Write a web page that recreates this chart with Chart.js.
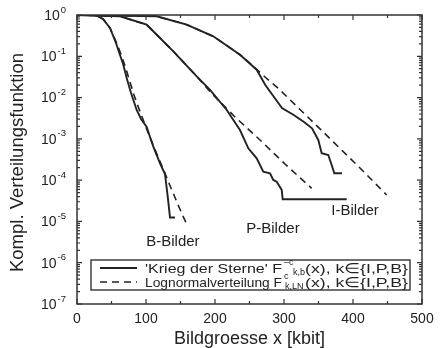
<!DOCTYPE html>
<html>
<head>
<meta charset="utf-8">
<script src="https://cdn.jsdelivr.net/npm/chart.js@4.4.1/dist/chart.umd.min.js"></script>
<style>
  html, body { margin: 0; padding: 0; background: #fff; }
</style>
</head>
<body>
<canvas id="chart" width="444" height="348"></canvas>
<script>
// Achsen
const xTicks = [0, 100, 200, 300, 400, 500];
const yExponents = [0, -1, -2, -3, -4, -5, -6, -7];

// B-Bilder (gemessen / Lognormal)
const bMessX = [0, 26.1, 37.7, 47.8, 56.5, 62.3, 67.1, 72.0, 78.3, 86.5, 92.8, 101, 105.8, 110.6, 115.5, 120.3, 127.5, 131.2, 134.8, 142];
const bMessY = [1, 1, 0.80, 0.484, 0.21, 0.107, 0.0625, 0.0298, 0.0129, 0.0050, 0.00303, 0.00194, 0.00111, 6.46e-4, 4.06e-4, 2.56e-4, 1.41e-4, 4.37e-5, 1.25e-5, 1.25e-5];
const bLogX = [0, 26.1, 37.7, 47.8, 58.0, 65.2, 71.0, 76.8, 82.6, 89.9, 97.1, 104.3, 111.6, 118.8, 126.1, 136.2, 147.8, 159.4];
const bLogY = [1, 1, 0.80, 0.484, 0.199, 0.0961, 0.0492, 0.0238, 0.0115, 0.00529, 0.00256, 0.00124, 6.35e-4, 3.25e-4, 1.67e-4, 6.46e-5, 2.24e-5, 8.2e-6];

// P-Bilder
const pMessX = [0, 62.3, 101, 139.6, 173.5, 192.8, 217, 236.2, 248.3, 260.4, 270, 279.7, 284.5, 289.4, 296.7, 298.1, 390.9];
const pMessY = [1, 0.931, 0.582, 0.132, 0.0327, 0.0153, 0.0050, 0.00164, 5.9e-4, 3.38e-4, 1.60e-4, 1.47e-4, 1.01e-4, 9.2e-5, 5.8e-5, 3.44e-5, 3.44e-5];
const pLogX = [0, 62.3, 101, 139.6, 173.5, 192.8, 227.5, 265.2, 301.4, 340.1];
const pLogY = [1, 0.931, 0.582, 0.132, 0.0327, 0.0139, 0.00358, 9.4e-4, 2.46e-4, 6.35e-5];

// I-Bilder
const iMessX = [0, 115.5, 159.0, 197.5, 236.2, 260.4, 272.9, 285.5, 297.1, 314.1, 329, 340.6, 349.7, 354.6, 364.2, 369.1, 372.9, 384.1];
const iMessY = [1, 0.931, 0.582, 0.305, 0.109, 0.0473, 0.0202, 0.0103, 0.0056, 0.00379, 0.00256, 0.0018, 9.4e-4, 4.48e-4, 4.07e-4, 2.33e-4, 1.47e-4, 1.47e-4];
const iLogX = [0, 115.5, 159.0, 197.5, 236.2, 248.8, 272.5, 294.2, 323.2, 352.2, 381.2, 410.1, 448.8];
const iLogY = [1, 0.931, 0.582, 0.305, 0.109, 0.0727, 0.0315, 0.0153, 0.00514, 0.00175, 5.85e-4, 1.97e-4, 4.37e-5];

const kurvenLabels = [
    { text: 'B-Bilder', x: 139, y: 3.2e-6 },
    { text: 'P-Bilder', x: 284, y: 6.6e-6 },
    { text: 'I-Bilder', x: 403, y: 1.8e-5 }
];

const FONT = '"Liberation Sans", Arial, Helvetica, sans-serif';
const INK = '#222';

function punkte(xs, ys) {
    return xs.map((v, i) => ({ x: v, y: ys[i] }));
}

function serie(xs, ys, gestrichelt) {
    return {
        data: punkte(xs, ys),
        borderColor: INK,
        borderWidth: gestrichelt ? 1.6 : 1.9,
        borderDash: gestrichelt ? [7, 5] : [],
        pointRadius: 0,
        showLine: true,
        fill: false,
        tension: 0
    };
}

// Text auf feste Breite bringen
function passText(ctx, text, x, y, breite) {
    const w = ctx.measureText(text).width;
    ctx.save();
    ctx.translate(x, y);
    ctx.scale(breite / w, 1);
    ctx.fillText(text, 0, 0);
    ctx.restore();
}

const rahmenPlugin = {
    id: 'rahmen',
    afterDraw(chart) {
        const { ctx, chartArea: a, scales: { x, y } } = chart;
        ctx.save();
        ctx.strokeStyle = '#333';
        ctx.fillStyle = INK;
        ctx.lineWidth = 1.5;
        ctx.strokeRect(a.left, a.top, a.right - a.left, a.bottom - a.top);

        // Ticks x
        ctx.lineWidth = 1.2;
        for (let v = 0; v <= 500; v += 50) {
            const px = x.getPixelForValue(v);
            const len = v % 100 === 0 ? 5 : 3;
            ctx.beginPath();
            ctx.moveTo(px, a.bottom); ctx.lineTo(px, a.bottom - len);
            ctx.moveTo(px, a.top); ctx.lineTo(px, a.top + len);
            ctx.stroke();
        }
        // Ticks y (log)
        yExponents.forEach(e => {
            const py = y.getPixelForValue(Math.pow(10, e));
            ctx.beginPath();
            ctx.moveTo(a.left, py); ctx.lineTo(a.left + 5, py);
            ctx.moveTo(a.right, py); ctx.lineTo(a.right - 5, py);
            ctx.stroke();
            if (e > -7) {
                for (let m = 2; m <= 9; m++) {
                    const pm = y.getPixelForValue(m * Math.pow(10, e - 1));
                    ctx.beginPath();
                    ctx.moveTo(a.left, pm); ctx.lineTo(a.left + 3, pm);
                    ctx.moveTo(a.right, pm); ctx.lineTo(a.right - 3, pm);
                    ctx.stroke();
                }
            }
        });

        // Tick-Beschriftung x
        ctx.font = `14px ${FONT}`;
        ctx.textAlign = 'center';
        ctx.textBaseline = 'middle';
        xTicks.forEach(v => ctx.fillText(String(v), x.getPixelForValue(v), a.bottom + 15));

        // Tick-Beschriftung y: 10^e
        ctx.textAlign = 'left';
        yExponents.forEach(e => {
            const py = y.getPixelForValue(Math.pow(10, e));
            ctx.font = `9.5px ${FONT}`;
            const ew = ctx.measureText(String(e)).width;
            const right = a.left - 11;
            ctx.fillText(String(e), right - ew, py - 5);
            ctx.font = `14px ${FONT}`;
            const bw = ctx.measureText('10').width;
            ctx.fillText('10', right - ew - bw - 1, py + 1);
        });

        // Achsentitel
        ctx.font = `18px ${FONT}`;
        ctx.textAlign = 'center';
        ctx.fillText('Bildgroesse x [kbit]', (a.left + a.right) / 2, a.bottom + 35);
        ctx.save();
        ctx.translate(18, (a.top + a.bottom) / 2 + 3);
        ctx.rotate(-Math.PI / 2);
        ctx.font = `18.5px ${FONT}`;
        ctx.fillText('Kompl. Verteilungsfunktion', 0, 0);
        ctx.restore();

        // Kurvenbeschriftungen
        ctx.font = `15px ${FONT}`;
        kurvenLabels.forEach(l => ctx.fillText(l.text, x.getPixelForValue(l.x), y.getPixelForValue(l.y)));

        // Legende
        const lx = a.left + 14, ly = a.bottom - 44;
        const lw = 319, lh = 30;
        ctx.fillStyle = '#fff';
        ctx.fillRect(lx, ly, lw, lh);
        ctx.lineWidth = 1.4;
        ctx.strokeStyle = '#333';
        ctx.strokeRect(lx, ly, lw, lh);
        ctx.fillStyle = INK;
        ctx.strokeStyle = INK;
        const r1 = ly + 8, r2 = ly + 22;
        ctx.lineWidth = 1.8;
        ctx.beginPath(); ctx.moveTo(lx + 9, r1); ctx.lineTo(lx + 46, r1); ctx.stroke();
        ctx.setLineDash([7, 5]);
        ctx.lineWidth = 1.6;
        ctx.beginPath(); ctx.moveTo(lx + 9, r2); ctx.lineTo(lx + 46, r2); ctx.stroke();
        ctx.setLineDash([]);
        ctx.textAlign = 'left';
        const tx = lx + 54;
        ctx.font = `13.5px ${FONT}`;
        passText(ctx, "'Krieg der Sterne' F", tx, r1 + 1, 137);
        passText(ctx, '(x), k\u2208{I,P,B}', tx + 160, r1 + 1, 103);
        passText(ctx, 'Lognormalverteilung F', tx, r2 + 1, 137);
        passText(ctx, '(x), k\u2208{I,P,B}', tx + 160, r2 + 1, 103);
        ctx.font = `9px ${FONT}`;
        ctx.fillText('\u2013c', tx + 139, r1 - 5);
        ctx.fillText('k,b', tx + 148, r1 + 5);
        ctx.fillText('c', tx + 139, r2 - 5);
        ctx.fillText('k,LN', tx + 140, r2 + 5);
        ctx.restore();
    }
};

new Chart(document.getElementById('chart'), {
    type: 'scatter',
    data: {
        datasets: [
            serie(bMessX, bMessY, false),
            serie(bLogX, bLogY, true),
            serie(pMessX, pMessY, false),
            serie(pLogX, pLogY, true),
            serie(iMessX, iMessY, false),
            serie(iLogX, iLogY, true)
        ]
    },
    options: {
        responsive: false,
        animation: false,
        layout: { padding: { left: 77, right: 22, top: 15, bottom: 44 } },
        plugins: { legend: { display: false }, tooltip: { enabled: false } },
        scales: {
            x: { type: 'linear', min: 0, max: 500, display: false },
            y: { type: 'logarithmic', min: 1e-7, max: 1, display: false }
        }
    },
    plugins: [rahmenPlugin]
});
</script>
</body>
</html>
